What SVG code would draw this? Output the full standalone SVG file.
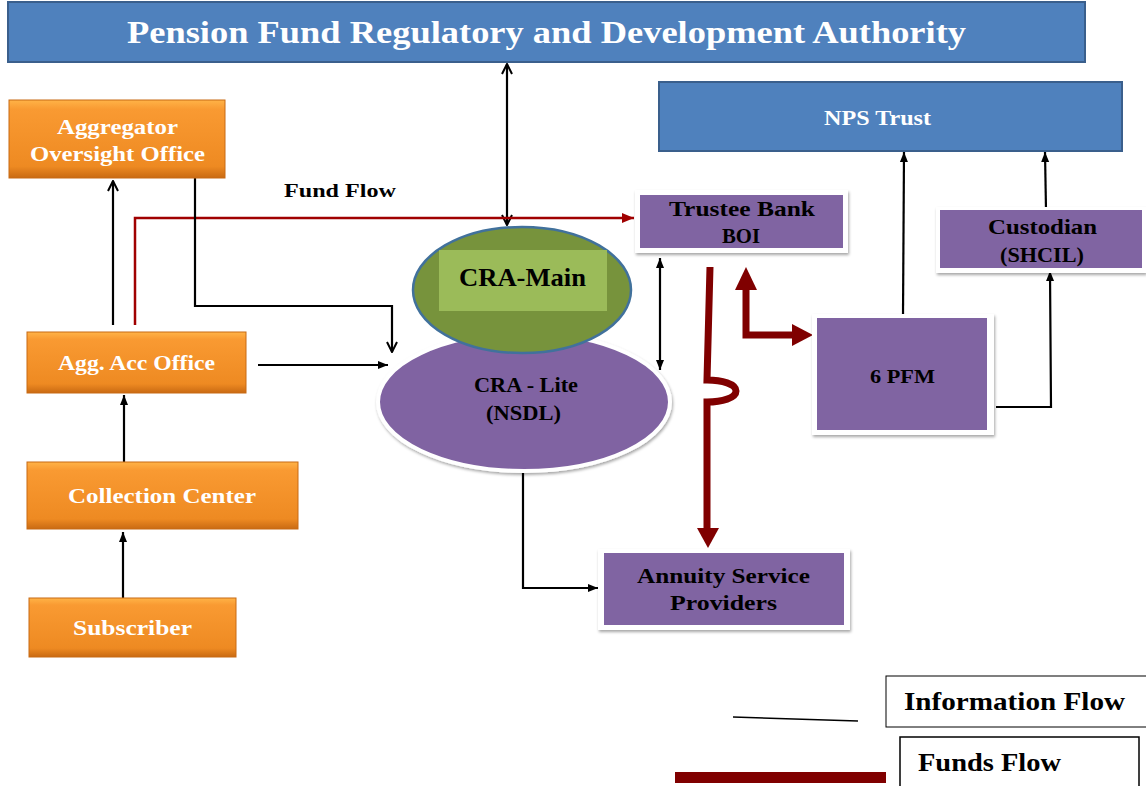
<svg xmlns="http://www.w3.org/2000/svg" width="1146" height="786" viewBox="0 0 1146 786">
<defs>
<style>
.t{font-family:"Liberation Serif","DejaVu Serif",serif;font-weight:bold;text-anchor:middle}
.w{fill:#ffffff}
.k{fill:#000000}
.blue{fill:#4F81BD;stroke:#3A5F8C;stroke-width:2}
.org{fill:url(#og);stroke:#C86A14;stroke-width:1}
.pw{fill:#ffffff;filter:url(#sh)}
.pu{fill:#8064A2}
.ln{fill:none;stroke:#000;stroke-width:2.2}
.rd{fill:none;stroke:#A00000;stroke-width:2.5}
.fd{fill:none;stroke:#800000;stroke-width:7}
</style>
<linearGradient id="og" x1="0" y1="0" x2="0" y2="1">
<stop offset="0" stop-color="#FFB347"/>
<stop offset="0.12" stop-color="#F99A32"/>
<stop offset="0.85" stop-color="#EE8A22"/>
<stop offset="1" stop-color="#C96A12"/>
</linearGradient>
<filter id="sh" x="-10%" y="-10%" width="125%" height="130%">
<feDropShadow dx="1" dy="2" stdDeviation="1.5" flood-color="#000" flood-opacity="0.35"/>
</filter>
<marker id="ah" viewBox="0 0 12 12" refX="11" refY="6" markerWidth="12" markerHeight="12" markerUnits="userSpaceOnUse" orient="auto-start-reverse">
<path d="M1,1 L11,6 L1,11" fill="none" stroke="#000" stroke-width="2"/>
</marker>
<marker id="at" viewBox="0 0 10 10" refX="10" refY="5" markerWidth="10" markerHeight="10" markerUnits="userSpaceOnUse" orient="auto-start-reverse">
<path d="M0,1 L10,5 L0,9 Z" fill="#000"/>
</marker>
<marker id="ar" viewBox="0 0 12 12" refX="12" refY="6" markerWidth="12" markerHeight="12" markerUnits="userSpaceOnUse" orient="auto">
<path d="M0,1 L12,6 L0,11 Z" fill="#A00000"/>
</marker>
</defs>
<rect width="1146" height="786" fill="#ffffff"/>

<g id="connectors">
<line class="ln" x1="507" y1="64" x2="507" y2="225" marker-start="url(#ah)" marker-end="url(#ah)"/>
<polyline class="rd" points="135,325 135,218 634,218" marker-end="url(#ar)"/>
<line class="ln" x1="113" y1="325" x2="113" y2="181" marker-end="url(#ah)"/>
<polyline class="ln" points="195,178 195,306 392,306 392,352" marker-end="url(#ah)"/>
<line class="ln" x1="258" y1="365" x2="388" y2="365" marker-end="url(#at)"/>
<line class="ln" x1="660" y1="258" x2="660" y2="370" marker-start="url(#at)" marker-end="url(#at)"/>
<polyline class="ln" points="523,472 523,588 598,588" marker-end="url(#at)"/>
<line class="ln" x1="123" y1="598" x2="123" y2="532" marker-end="url(#at)"/>
<line class="ln" x1="124" y1="462" x2="124" y2="395" marker-end="url(#at)"/>
<line class="ln" x1="903" y1="315" x2="904" y2="152" marker-end="url(#at)"/>
<line class="ln" x1="1046" y1="210" x2="1045" y2="152" marker-end="url(#at)"/>
<polyline class="ln" points="996,407 1051,407 1050,271" marker-end="url(#at)"/>
<path class="fd" d="M710,267 L707,380 C722,380 736,384 736,391 C736,398 722,402 707,402 L707,530"/>
<path d="M697,528 L719,528 L708,548 Z" fill="#800000"/>
<polyline class="fd" points="746,288 746,335 793,335"/>
<path d="M735,290 L757,290 L746,267 Z" fill="#800000"/>
<path d="M792,324 L792,346 L813,335 Z" fill="#800000"/>
</g>

<g id="pfrda">
<rect class="blue" x="8" y="2" width="1077" height="60"/>
<text class="t w" x="546.5" y="43" font-size="32" textLength="839" lengthAdjust="spacingAndGlyphs">Pension Fund Regulatory and Development Authority</text>
</g>

<g id="nps-trust">
<rect class="blue" x="659" y="82" width="463" height="69"/>
<text class="t w" x="877.5" y="125" font-size="21" textLength="107" lengthAdjust="spacingAndGlyphs">NPS Trust</text>
</g>

<g id="aggregator-oversight">
<rect class="org" x="9" y="100" width="216" height="78"/>
<text class="t w" x="117.5" y="134" font-size="21" textLength="121" lengthAdjust="spacingAndGlyphs">Aggregator</text>
<text class="t w" x="117.5" y="161" font-size="21" textLength="175" lengthAdjust="spacingAndGlyphs">Oversight Office</text>
</g>

<g id="agg-acc-office">
<rect class="org" x="27" y="332" width="219" height="61"/>
<text class="t w" x="136.5" y="370" font-size="21" textLength="157" lengthAdjust="spacingAndGlyphs">Agg. Acc Office</text>
</g>

<g id="collection-center">
<rect class="org" x="27" y="462" width="271" height="67"/>
<text class="t w" x="162" y="503" font-size="21" textLength="188" lengthAdjust="spacingAndGlyphs">Collection Center</text>
</g>

<g id="subscriber">
<rect class="org" x="29" y="598" width="207" height="59"/>
<text class="t w" x="132.5" y="635" font-size="21" textLength="119" lengthAdjust="spacingAndGlyphs">Subscriber</text>
</g>

<g id="cra-lite">
<ellipse cx="524" cy="402" rx="146" ry="69" fill="#8064A2" stroke="#ffffff" stroke-width="4" filter="url(#sh)"/>
<text class="t k" x="526" y="392" font-size="20" textLength="104" lengthAdjust="spacingAndGlyphs">CRA - Lite</text>
<text class="t k" x="523.5" y="420" font-size="20" textLength="75" lengthAdjust="spacingAndGlyphs">(NSDL)</text>
</g>

<g id="cra-main">
<ellipse cx="522" cy="290" rx="109" ry="63" fill="#77933C" stroke="#41719C" stroke-width="2.5"/>
<rect x="439" y="250" width="168" height="61" fill="#9BBB59"/>
<text class="t k" x="522.5" y="286" font-size="25" textLength="127" lengthAdjust="spacingAndGlyphs">CRA-Main</text>
</g>

<g id="trustee-bank">
<rect class="pw" x="635" y="190" width="213" height="63"/>
<rect class="pu" x="640" y="195" width="203" height="53"/>
<text class="t k" x="742" y="216" font-size="21" textLength="146" lengthAdjust="spacingAndGlyphs">Trustee Bank</text>
<text class="t k" x="741" y="243" font-size="21" textLength="38" lengthAdjust="spacingAndGlyphs">BOI</text>
</g>

<g id="custodian">
<rect class="pw" x="936" y="207" width="210" height="66"/>
<rect class="pu" x="940" y="210" width="202" height="58"/>
<text class="t k" x="1042.5" y="234" font-size="21" textLength="109" lengthAdjust="spacingAndGlyphs">Custodian</text>
<text class="t k" x="1042" y="262" font-size="21" textLength="84" lengthAdjust="spacingAndGlyphs">(SHCIL)</text>
</g>

<g id="pfm">
<rect class="pw" x="812" y="314" width="182" height="121"/>
<rect class="pu" x="817" y="318" width="170" height="112"/>
<text class="t k" x="902.5" y="383" font-size="19" textLength="65" lengthAdjust="spacingAndGlyphs">6 PFM</text>
</g>

<g id="annuity">
<rect class="pw" x="598" y="549" width="252" height="81"/>
<rect class="pu" x="604" y="553" width="240" height="72"/>
<text class="t k" x="723.5" y="583" font-size="21" textLength="173" lengthAdjust="spacingAndGlyphs">Annuity Service</text>
<text class="t k" x="723.5" y="610" font-size="21" textLength="107" lengthAdjust="spacingAndGlyphs">Providers</text>
</g>

<g id="labels">
<text class="t k" x="340" y="197" font-size="19" textLength="112" lengthAdjust="spacingAndGlyphs">Fund Flow</text>
</g>

<g id="legend">
<line x1="733" y1="717" x2="858" y2="721" stroke="#000" stroke-width="1.5"/>
<rect x="886" y="676" width="262" height="51" fill="none" stroke="#000" stroke-width="1"/>
<text class="t k" x="1014.5" y="710" font-size="25" textLength="221" lengthAdjust="spacingAndGlyphs">Information Flow</text>
<rect x="675" y="772" width="211" height="11" fill="#800000"/>
<rect x="900" y="737" width="239" height="60" fill="none" stroke="#000" stroke-width="1.5"/>
<text class="t k" x="989.5" y="771" font-size="25" textLength="143" lengthAdjust="spacingAndGlyphs">Funds Flow</text>
</g>
</svg>
